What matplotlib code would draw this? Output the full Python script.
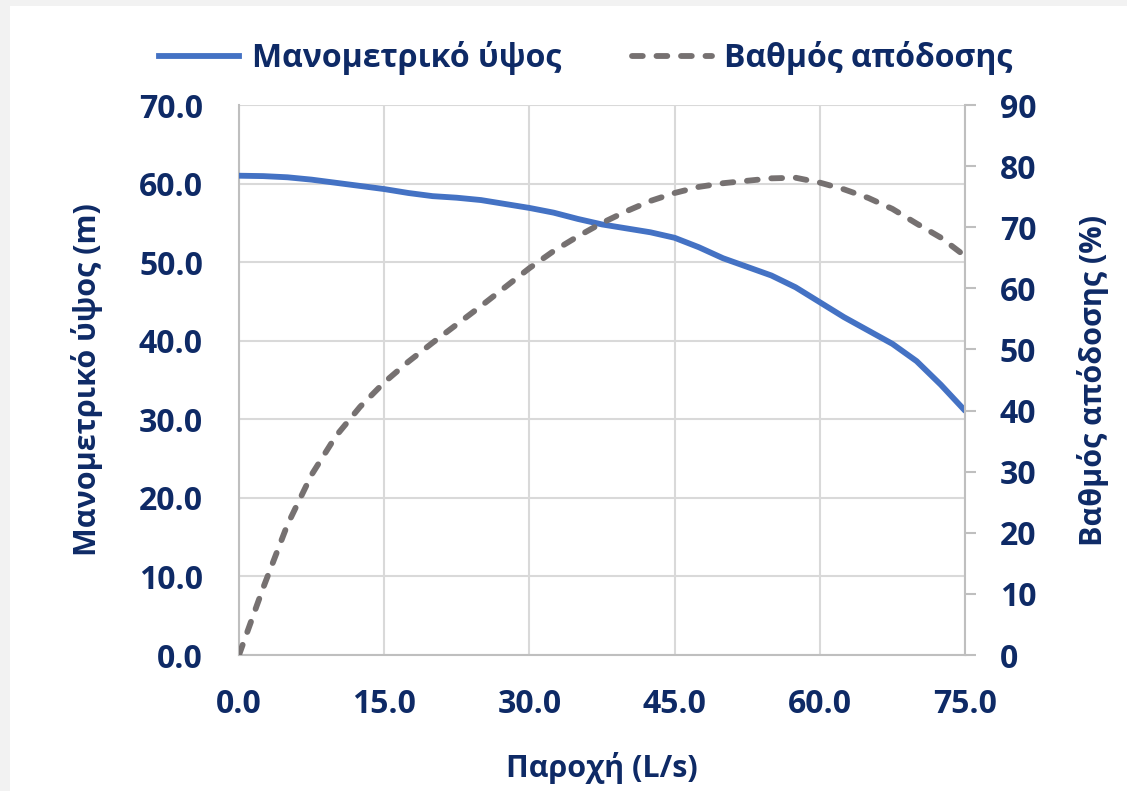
import matplotlib
matplotlib.use("Agg")
import matplotlib.pyplot as plt
from matplotlib.patches import Rectangle
from matplotlib.lines import Line2D

flow = [0, 2.5, 5, 7.5, 10, 12.5, 15, 17.5, 20, 22.5, 25, 27.5, 30, 32.5, 35, 37.5,
        40, 42.5, 45, 47.5, 50, 52.5, 55, 57.5, 60, 62.5, 65, 67.5, 70, 72.5, 75]
head = [61.0, 60.95, 60.8, 60.5, 60.1, 59.7, 59.3, 58.8, 58.4, 58.2, 57.9, 57.4, 56.9, 56.3,
        55.5, 54.8, 54.3, 53.8, 53.1, 51.9, 50.5, 49.4, 48.3, 46.8, 44.9, 43.0, 41.3, 39.6,
        37.4, 34.4, 31.1]
eff = [0, 11.0, 21.3, 29.5, 35.8, 40.6, 44.6, 48.0, 51.1, 54.1, 57.1, 60.2, 63.3, 66.1,
       68.5, 70.7, 72.6, 74.3, 75.6, 76.6, 77.2, 77.6, 78.0, 78.1, 77.3, 76.2, 74.8, 73.0,
       70.6, 68.3, 65.3]

x_ticks = [0, 15, 30, 45, 60, 75]
left_ticks = [0, 10, 20, 30, 40, 50, 60, 70]
right_ticks = [0, 10, 20, 30, 40, 50, 60, 70, 80, 90]

label_head = "Μανομετρικό ύψος"
label_eff = "Βαθμός απόδοσης"
xlabel = "Παροχή (L/s)"
ylabel_left = "Μανομετρικό ύψος (m)"
ylabel_right = "Βαθμός απόδοσης (%)"

navy = "#0E2A66"
blue = "#4472C4"
gray = "#767171"
grid = "#D9D9D9"
lw = 4.2
dash = (1.85, 2.35)

plt.rcParams['font.family'] = ['Open Sans', 'DejaVu Sans']
plt.rcParams['font.weight'] = 'bold'

fig = plt.figure(figsize=(11.27, 7.91), dpi=100)
fig.patch.set_facecolor("#F2F2F2")
fig.patches.append(Rectangle((10/1127, 0), 1, 1 - 6/791, transform=fig.transFigure,
                             facecolor="white", edgecolor="none", zorder=-10))

ax = fig.add_axes([239/1127, 1 - 655/791, (965-239)/1127, (655-105)/791])
ax.set_facecolor("none")
ax2 = ax.twinx()

ax.plot(flow, head, color=blue, lw=lw, solid_capstyle='round', solid_joinstyle='round', zorder=3)
ax2.plot(flow, eff, color=gray, lw=lw, dashes=dash, dash_capstyle='round',
         dash_joinstyle='round', zorder=3)

ax.set_xlim(0, 75)
ax.set_ylim(0, 70)
ax2.set_ylim(0, 90)
ax.set_xticks(x_ticks)
ax.set_xticklabels([f"{v:.1f}" for v in x_ticks])
ax.set_yticks(left_ticks)
ax.set_yticklabels([f"{v:.1f}" for v in left_ticks])
ax2.set_yticks(right_ticks)
ax2.set_yticklabels([str(v) for v in right_ticks])

ax.grid(True, color=grid, lw=1.5, zorder=0)
ax.set_axisbelow(True)
for a in (ax, ax2):
    for s in a.spines.values():
        s.set_visible(False)
for side in ("left", "bottom"):
    ax.spines[side].set_visible(True)
    ax.spines[side].set_color("#BFBFBF")
    ax.spines[side].set_linewidth(1.5)
ax2.spines["right"].set_visible(True)
ax2.spines["right"].set_color("#BFBFBF")
ax2.spines["right"].set_linewidth(1.5)

ax.tick_params(axis='x', length=0, labelsize=23, labelcolor=navy, pad=24)
ax.tick_params(axis='y', length=0, labelsize=23, labelcolor=navy, pad=26)
ax2.tick_params(axis='y', length=8, width=1.5, color="#BFBFBF", labelsize=23,
                labelcolor=navy, pad=17)
for lab in ax.get_xticklabels() + ax.get_yticklabels() + ax2.get_yticklabels():
    lab.set_fontweight('bold')

ax.set_xlabel(xlabel, fontsize=22, color=navy, fontweight='bold', labelpad=22)
ax.set_ylabel(ylabel_left, fontsize=22, color=navy, fontweight='bold', labelpad=26)
ax2.set_ylabel(ylabel_right, fontsize=22, color=navy, fontweight='bold', labelpad=29)

handles = [Line2D([0], [0], color=blue, lw=lw),
           Line2D([0], [0], color=gray, lw=lw, dashes=dash, dash_capstyle='round')]
leg = fig.legend(handles, [label_head, label_eff], loc='center', ncol=2,
                 bbox_to_anchor=(586/1127, 1 - 58/791), frameon=False,
                 prop={'size': 23, 'weight': 'bold'}, handlelength=2.5,
                 columnspacing=2.2, handletextpad=0.4)
for t in leg.get_texts():
    t.set_color(navy)

fig.savefig("out.png", dpi=100, facecolor=fig.get_facecolor())
